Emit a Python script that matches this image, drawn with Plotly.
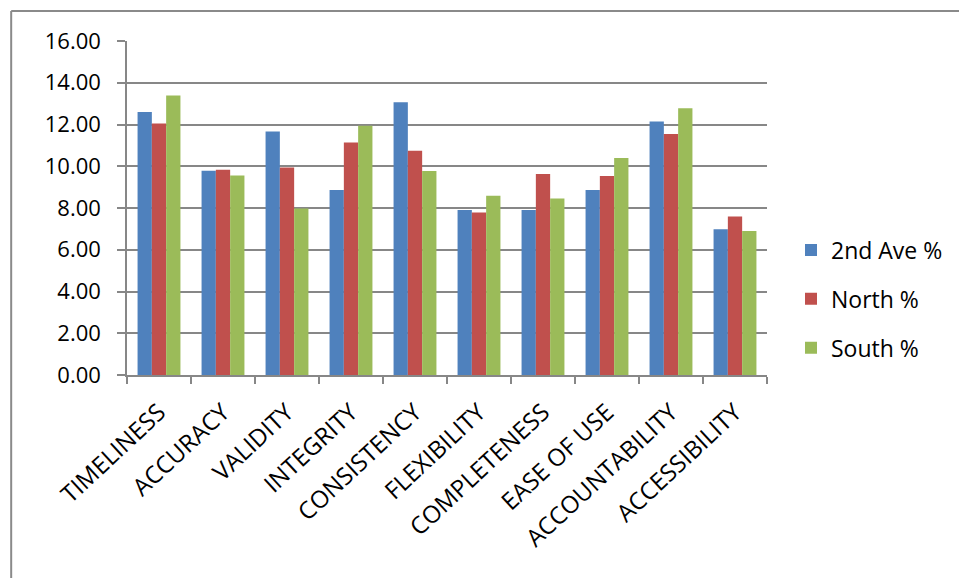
import plotly.graph_objects as go

categories = ["TIMELINESS", "ACCURACY", "VALIDITY", "INTEGRITY", "CONSISTENCY",
              "FLEXIBILITY", "COMPLETENESS", "EASE OF USE", "ACCOUNTABILITY", "ACCESSIBILITY"]
ave2 = [12.60, 9.78, 11.67, 8.86, 13.07, 7.90, 7.90, 8.86, 12.14, 6.98]
north = [12.05, 9.83, 9.94, 11.14, 10.74, 7.79, 9.63, 9.53, 11.55, 7.59]
south = [13.39, 9.56, 7.98, 11.94, 9.77, 8.59, 8.46, 10.39, 12.78, 6.90]
series_names = ["2nd Ave %", "North %", "South %"]
colors = ["#4F81BD", "#C0504D", "#9BBB59"]
y_ticks = [0, 2, 4, 6, 8, 10, 12, 14, 16]

font_family = "Open Sans"
fig = go.Figure()
for name, vals, col in zip(series_names, [ave2, north, south], colors):
    fig.add_trace(go.Bar(x=categories, y=vals, name=name, marker_color=col,
                         marker_line_width=0, legendgroup=name))

W, H = 959, 578
L, R, T, B = 127, 768, 41, 375
pw, ph = R - L, B - T
fig.update_layout(
    width=W, height=H,
    margin=dict(l=L, r=W - R, t=T, b=H - B),
    paper_bgcolor="white", plot_bgcolor="white",
    barmode="group", bargap=0.33, bargroupgap=0,
    font=dict(family=font_family, size=23, color="black"),
    showlegend=True,
    legend=dict(x=(791 - L) / pw, y=(B - 299) / ph, xanchor="left", yanchor="middle",
                font=dict(size=23), tracegroupgap=16, traceorder="grouped",
                bgcolor="rgba(0,0,0,0)"),
)
fig.update_yaxes(range=[0, 16], tickvals=y_ticks, tickformat=".2f",
                 showgrid=True, gridcolor="#878787", gridwidth=1.5,
                 showline=True, linecolor="#878787", linewidth=1.5,
                 ticks="outside", ticklen=8, tickcolor="#878787", tickwidth=1.5,
                 ticklabelstandoff=12, zeroline=False, tickfont=dict(size=22))
fig.update_xaxes(showline=True, linecolor="#878787", linewidth=1.5,
                 ticks="outside", ticklen=7, tickcolor="#878787", tickwidth=1.5,
                 tickson="boundaries", tickangle=-43, showgrid=False,
                 ticklabelstandoff=12, tickfont=dict(size=24))

# outer chart border (left and top lines)
bx = (11 - L) / pw
by = (B - 11) / ph
fig.add_shape(type="line", xref="paper", yref="paper", x0=bx, y0=by, x1=(W + 20 - L) / pw, y1=by,
              line=dict(color="#8a8a8a", width=2))
fig.add_shape(type="line", xref="paper", yref="paper", x0=bx, y0=by, x1=bx, y1=(B - H - 20) / ph,
              line=dict(color="#8a8a8a", width=2))

fig.write_html("out.html")
